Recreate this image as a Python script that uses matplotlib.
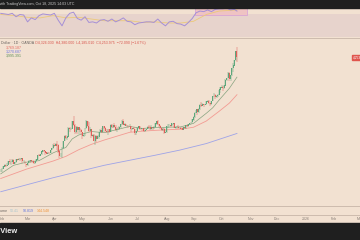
import numpy as np
import pandas as pd
import matplotlib
matplotlib.use("Agg")
import matplotlib.pyplot as plt
from matplotlib.patches import Rectangle

plt.rcParams["font.family"] = ["Liberation Sans", "DejaVu Sans"]

# ---------------- data ----------------
dates = pd.bdate_range("2025-01-31", "2025-10-17")
first_open = 2794
closes = [2798,
 2815,2842,2866,2856,2861,2908,2898,2905,2928,2883,2898,2935,2933,2939,2936,2951,2914,2917,2876,2858,
 2893,2918,2920,2911,2910,2889,2916,2934,2989,2984,3001,3035,3048,3044,3023,3011,3020,3019,3057,3085,3124,
 3113,3134,3114,3037,2982,2982,3083,3175,3237,3210,3229,3342,3327,3330,3424,3381,3288,3349,3319,3344,3316,3288,
 3239,3241,3334,3431,3366,3306,3325,3236,3250,3178,3240,3203,3230,3291,3314,3294,3357,3342,3300,3289,3318,3289,
 3380,3353,3373,3352,3310,3326,3322,3355,3386,3432,3384,3388,3369,3369,3368,3368,3323,3333,3327,3274,3303,
 3338,3357,3326,3337,3335,3302,3313,3324,3355,3344,3324,3347,3339,3350,3397,3431,3387,3368,3337,3314,3326,3274,3289,
 3363,3373,3380,3368,3397,3398,3342,3348,3356,3335,3336,3332,3315,3348,3339,3371,3365,3393,3396,3416,3448,
 3476,3533,3578,3545,3586,3636,3626,3640,3634,3643,3679,3689,3659,3644,3685,3746,3763,3735,3749,3760,3834,3859,
 3866,3857,3887,3961,3985,4041,3976,4018,4110,4142,4209,4326,4254]
highs = [2817,
 2830,2845,2882,2870,2886,2911,2942,2910,2937,2942,2906,2938,2947,2955,2953,2956,2947,2928,2919,2883,
 2896,2927,2930,2927,2930,2913,2921,2940,2990,3004,3002,3038,3055,3057,3046,3031,3025,3033,3060,3087,3128,
 3149,3149,3168,3136,3055,3022,3100,3177,3245,3245,3230,3357,3357,3335,3430,3500,3387,3367,3371,3351,3335,3328,
 3280,3270,3338,3437,3435,3415,3347,3330,3266,3261,3252,3253,3250,3295,3325,3345,3366,3365,3350,3325,3330,3326,
 3392,3392,3385,3403,3375,3340,3349,3360,3395,3446,3452,3403,3395,3380,3375,3398,3368,3345,3350,3329,3308,
 3358,3365,3366,3345,3343,3346,3318,3331,3369,3375,3366,3377,3352,3361,3402,3434,3439,3393,3373,3345,3334,3334,3315,
 3363,3386,3390,3385,3398,3409,3400,3358,3369,3374,3347,3358,3345,3351,3351,3378,3376,3394,3398,3423,3453,
 3489,3540,3578,3563,3600,3646,3674,3656,3644,3655,3685,3703,3707,3660,3687,3749,3791,3776,3761,3782,3835,3872,
 3895,3876,3889,3977,3990,4060,4059,4022,4116,4180,4218,4330,4381]
lows = [2772,
 2772,2809,2835,2834,2853,2860,2880,2864,2902,2877,2881,2891,2914,2924,2920,2930,2890,2905,2875,2833,
 2855,2886,2894,2896,2894,2881,2880,2905,2932,2977,2981,2999,3026,3030,2999,3000,3005,3012,3016,3054,3076,
 3100,3105,3054,3015,2957,2970,2957,3073,3175,3193,3192,3228,3284,3320,3330,3367,3260,3280,3265,3268,3283,3268,
 3202,3222,3241,3324,3358,3290,3301,3207,3222,3171,3120,3154,3207,3204,3285,3280,3287,3330,3285,3276,3245,3271,
 3283,3343,3345,3339,3306,3293,3314,3318,3338,3381,3383,3366,3362,3347,3340,3350,3295,3312,3322,3255,3247,
 3295,3328,3311,3322,3296,3287,3283,3310,3321,3341,3320,3319,3310,3332,3346,3383,3381,3351,3325,3301,3308,3268,3270,
 3281,3346,3355,3358,3366,3381,3341,3331,3345,3330,3332,3323,3311,3311,3332,3321,3359,3351,3374,3386,3407,
 3436,3471,3527,3510,3536,3578,3613,3620,3613,3630,3634,3676,3646,3628,3634,3683,3733,3717,3722,3740,3760,3793,
 3850,3820,3845,3885,3940,3985,3945,3947,4005,4060,4139,4200,4185]

ema_bar = [0, 10, 20, 30, 41, 51, 56, 61, 71, 81, 91, 101, 111, 121, 131, 141, 151, 161, 166, 171, 179, 185]
ema20 = [2750, 2860, 2900, 2920, 3020, 3090, 3200, 3250, 3295, 3280, 3320, 3360, 3335, 3345, 3350, 3355,
         3400, 3530, 3600, 3700, 3850, 3995]
ema50_bar = [0, 20, 41, 51, 61, 71, 81, 91, 101, 111, 121, 131, 141, 151, 161, 171, 179, 185]
ema50 = [2690, 2810, 2915, 2975, 3060, 3130, 3185, 3235, 3285, 3300, 3310, 3318, 3325, 3350, 3430, 3555, 3660, 3769]
ema200_bar = [0, 41, 81, 121, 140, 161, 185]
ema200 = [2520, 2700, 2860, 2990, 3055, 3140, 3270]

rsi_bar = list(range(0, 186, 3)) + [185]
rsi = [72, 71, 70, 72, 66, 70, 69, 57, 64, 61, 68, 71, 70, 69, 72, 60, 50, 64, 72, 74, 63, 60, 66, 56, 57,
       55, 60, 61, 58, 62, 57, 60, 64, 58, 57, 52, 55, 56, 57, 57, 56, 62, 55, 50, 57, 58, 54, 53, 50, 56,
       63, 73, 76, 75, 78, 75, 79, 80, 80, 81, 78, 79, 76]
rsi_ma_bar = [0, 11, 21, 31, 41, 51, 61, 71, 81, 91, 101, 111, 121, 131, 141, 151, 161, 171, 185]
rsi_ma = [70, 68, 65, 64, 68, 64, 65, 62, 59, 59, 59, 56, 57, 55, 55, 58, 70, 76, 78]

month_labels = ["Feb", "Mar", "Apr", "May", "Jun", "Jul", "Aug", "Sep", "Oct", "Nov", "Dec", "2026", "Feb", "Mar"]

# ---------------- style ----------------
BG = "#f2e1d1"
DARK = "#1f1f1f"
BAND = "#e7d3cc"
SEP = "#cdbbad"
UP = "#5ea77c"
DN = "#e0605a"
C20 = "#86a37f"
C50 = "#f29b93"
C200 = "#9ea3e8"
FS = 2.6

W, H = 360, 240
fig = plt.figure(figsize=(3.6, 2.4), dpi=100, facecolor=BG)

def fy(p):
    return 1 - p / H

def axes_px(x0, y0, x1, y1, **kw):
    return fig.add_axes([x0 / W, fy(y1), (x1 - x0) / W, (y1 - y0) / H], **kw)

# x mapping: pixel = 2 + (pos-1)*1.277
xl = (1 - 2 / 1.277, 1 + 358 / 1.277)

# dark bars
fig.patches.append(Rectangle((0, fy(7.5)), 1, 7.5 / H, transform=fig.transFigure, color=DARK, zorder=0))
fig.patches.append(Rectangle((0, 0), 1, 17 / H, transform=fig.transFigure, color=DARK, zorder=0))
fig.text(-15 / W, fy(3.8), "Created with TradingView.com, Oct 18, 2025 14:03 UTC", color="#c8c8c8",
         fontsize=FS, va="center", ha="left")
fig.text(18 / W, fy(231.5), "TradingView", color="#f0f0f0", fontsize=5.4, va="center", ha="right",
         fontweight="bold")

# ---------------- RSI pane ----------------
pos = np.arange(len(dates))
axr = axes_px(0, 7.5, 360, 38)
axr.set_facecolor(BG)
axr.set_xlim(*xl)
r_top = 70 + (14.5 - 7.5) / 0.57
r_bot = 30 - (38 - 37.2) / 0.57
axr.set_ylim(r_bot, r_top)
axr.axhspan(30, 70, color=BAND, lw=0, zorder=0)
axr.add_patch(Rectangle((152, 69.5), 41, r_top - 69.5, facecolor="#efc3c3", edgecolor="#d9a6d6",
                        lw=0.6, zorder=1))
axr.plot(rsi_ma_bar, rsi_ma, color="#ecc978", lw=0.6, zorder=2)
axr.plot(rsi_bar, rsi, color="#a58fd6", lw=0.7, zorder=3)
axr.axis("off")

# ---------------- main pane ----------------
ax = axes_px(0, 38.5, 360, 205.5)
ax.set_facecolor(BG)
ax.set_xlim(*xl)
ytop = 4254 + (57 - 38.5) / 0.0777
ybot = 4254 - (205.5 - 57) / 0.0777
ax.set_ylim(ybot, ytop)
for s in ax.spines.values():
    s.set_visible(False)
ax.set_xticks([]); ax.set_yticks([])

opens = np.r_[first_open, closes[:-1]]
c = np.array(closes); h = np.array(highs); l = np.array(lows)
col = np.where(c >= opens, UP, DN)
ax.plot(ema200_bar, ema200, color=C200, lw=0.6, zorder=2)
ax.plot(ema50_bar, ema50, color=C50, lw=0.6, zorder=2)
ax.plot(ema_bar, ema20, color=C20, lw=0.5, zorder=2)
ax.vlines(pos, l, h, colors=col, lw=0.35, zorder=3)
ax.bar(pos, np.abs(c - opens) + 3, bottom=np.minimum(c, opens), width=0.75, color=col, lw=0, zorder=4)

# legend texts
fig.text(1 / W, fy(43.3), "Dollar · 1D · OANDA", fontsize=FS, color="#6a6460", va="center", ha="left")
fig.text(35 / W, fy(43.3), "O4,326.030  H4,380.000  L4,185.010  C4,253.975  −72.090 (−1.67%)",
         fontsize=FS, color="#d9574f", va="center", ha="left")
fig.text(6 / W, fy(47.5), "3,769.187", fontsize=FS, color="#e46a62", va="center")
fig.text(6 / W, fy(51.3), "3,270.687", fontsize=FS, color="#6f78e0", va="center")
fig.text(6 / W, fy(55.2), "3,995.391", fontsize=FS, color="#5f8f5a", va="center")

# last price label
fig.patches.append(Rectangle((352 / W, fy(59.5)), 8 / W, 4.5 / H, transform=fig.transFigure,
                             color="#e0554d", zorder=5))
fig.text(353 / W, fy(57.3), "4,253.975", color="white", fontsize=2.3, va="center", ha="left", zorder=6)

# separators
for yy in (38.2, 206, 215.3):
    fig.add_artist(plt.Line2D([0, 1], [fy(yy), fy(yy)], transform=fig.transFigure, color=SEP, lw=0.7))

# volume legend
fig.text(8 / W, fy(210.7), "Volume", color="#6a6460", fontsize=FS, va="center", ha="right")
fig.text(10 / W, fy(210.7), "50.41", color="#a9c6cf", fontsize=FS, va="center")
fig.text(23 / W, fy(210.7), "90.819", color="#5e74e0", fontsize=FS, va="center")
fig.text(37 / W, fy(210.7), "144.548", color="#f0953a", fontsize=FS, va="center")

# month labels
full = pd.bdate_range("2025-01-31", "2026-03-31")
fpos = np.arange(len(full))
firsts = [fpos[i] for i in range(1, len(full)) if full[i].month != full[i - 1].month]
for p, lab in zip(firsts, month_labels):
    xp = 2 + (p - 1) * 1.277
    fig.text(xp / W, fy(219.3), lab, color="#8a8078", fontsize=FS, va="center", ha="center")

fig.savefig("out.png", dpi=100, facecolor=BG)
